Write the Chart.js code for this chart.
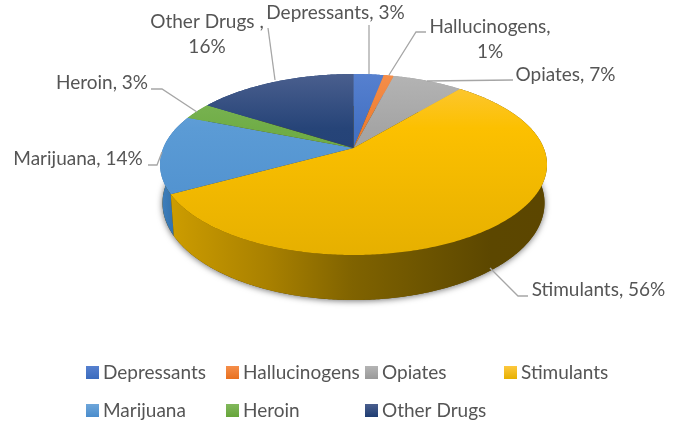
<!DOCTYPE html>
<html><head><meta charset="utf-8">
<style>html,body{margin:0;padding:0;background:#fff}canvas{display:block}</style>
<script src="https://cdn.jsdelivr.net/npm/chart.js@4"></script>
</head><body><canvas id="c" width="677" height="421"></canvas>
<script>
const categories = ["Depressants","Hallucinogens","Opiates","Stimulants","Marijuana","Heroin","Other Drugs"];
const percentages = [3,1,7,56,14,3,16];
const topColors = [
  ["#5680cf","#4472c4","#3b6bbd"],
  ["#f58e4a","#ed7d31","#e8701e"],
  ["#b4b4b4","#a5a5a5","#999999"],
  ["#fdc83e","#fcc000","#e6b000"],
  ["#6ea6da","#5b9bd5","#4a8ccc"],
  ["#82b85c","#70ad47","#66a53a"],
  ["#4a5f8e","#264478","#1e3c72"]
];
const wallColors = {
  3:[[0,"#cc9c00"],[0.26,"#a88000"],[0.48,"#806300"],[0.69,"#6b5300"],[0.85,"#5c4700"],[1,"#5c4600"]],
  4:[[0,"#3f80bd"],[1,"#2f6ca6"]]
};
const labelFont = '19px Lato';
const TOP = {cx:353.5, cy:164.5, rx:193.5, ry:90.5, off:-16.5};
const BOT = {cx:353.5, cy:203, ry:97, rx:191, off:-16.5};
const labelText = [
  {lines:["Depressants, 3%"], x:335.5, y:19},
  {lines:["Hallucinogens,","1%"], x:490, y:33},
  {lines:["Opiates, 7%"], x:565.5, y:81},
  {lines:["Stimulants, 56%"], x:598.5, y:296},
  {lines:["Marijuana, 14%"], x:78, y:165},
  {lines:["Heroin, 3%"], x:102, y:89},
  {lines:["Other Drugs ,","16%"], x:207, y:28}
];
const leaders = [
  [[369,25],[369,74]],
  [[426,32],[416,32],[389,75]],
  [[513,80],[427,81]],
  [[528,296],[518,296],[490,268]],
  [[148,165],[157,165],[162,152]],
  [[151,89],[162,89],[197,112]],
  [[268,28],[275,80]]
];
const legendCols = [86,226,365,504];
const legendRows = [366,404];

function project(a, g){
  const u = Math.cos(a), v = Math.sin(a);
  const k = g.off / g.ry;
  const A = g.rx * Math.sqrt(1 - k*k);
  const d = 1 + k*v;
  return [g.cx + A*u/d, g.cy + (g.ry*v + g.off)/d];
}
function rim(ctx, s, e, g, first){
  const n = Math.max(2, Math.ceil(Math.abs(e-s)/0.01));
  for(let i=0;i<=n;i++){
    const p = project(s+(e-s)*i/n, g);
    if(i===0 && first) ctx.moveTo(p[0],p[1]); else ctx.lineTo(p[0],p[1]);
  }
}
const pie3d = {
  id:'pie3d',
  beforeDatasetsDraw(chart){
    const ctx = chart.ctx, arcs = chart.getDatasetMeta(0).data;
    ctx.save();
    ctx.save();
    ctx.shadowColor='rgba(0,0,0,0.55)';ctx.shadowBlur=6;ctx.shadowOffsetY=1;
    ctx.fillStyle='#5c4600';
    ctx.beginPath();rim(ctx,0,Math.PI*2,BOT,true);ctx.closePath();ctx.fill();
    ctx.restore();
    const order = arcs.map((a,i)=>i).sort((i,j)=>
      Math.sin((arcs[i].startAngle+arcs[i].endAngle)/2)-Math.sin((arcs[j].startAngle+arcs[j].endAngle)/2));
    order.forEach(i=>{
      const a = arcs[i];
      const stops = wallColors[i] || [[0,topColors[i][2]],[1,topColors[i][2]]];
      const gr = ctx.createLinearGradient(i===3?172:TOP.cx-TOP.rx,0,i===3?TOP.cx+TOP.rx:180,0);
      stops.forEach(s=>gr.addColorStop(s[0],s[1]));
      ctx.fillStyle = gr;
      ctx.beginPath();
      rim(ctx,a.startAngle,a.endAngle,TOP,true);
      rim(ctx,a.endAngle,a.startAngle,BOT,false);
      ctx.closePath();ctx.fill();
    });
    arcs.forEach((a,i)=>{
      const gr = ctx.createLinearGradient(0,TOP.cy-TOP.ry,0,TOP.cy+TOP.ry);
      gr.addColorStop(0,topColors[i][0]);
      gr.addColorStop(0.3,topColors[i][1]);
      gr.addColorStop(1,topColors[i][2]);
      ctx.fillStyle = gr;
      ctx.beginPath();
      ctx.moveTo(TOP.cx,TOP.cy+TOP.off);
      rim(ctx,a.startAngle,a.endAngle,TOP,false);
      ctx.closePath();ctx.fill();
    });
    ctx.restore();
    return false;
  },
  afterDraw(chart){
    const ctx = chart.ctx;
    ctx.save();
    ctx.strokeStyle='#a6a6a6';ctx.lineWidth=1.3;
    leaders.forEach(l=>{
      ctx.beginPath();
      l.forEach((p,i)=>i?ctx.lineTo(p[0],p[1]):ctx.moveTo(p[0],p[1]));
      ctx.stroke();
    });
    ctx.fillStyle='#555555';ctx.font=labelFont;ctx.textAlign='center';ctx.textBaseline='alphabetic';
    labelText.forEach(t=>t.lines.forEach((s,i)=>ctx.fillText(s,t.x,t.y+i*25)));
    ctx.textAlign='left';
    chart.data.labels.forEach((name,i)=>{
      const x = legendCols[i%4], y = legendRows[Math.floor(i/4)];
      const gr = ctx.createLinearGradient(0,y,0,y+13);
      gr.addColorStop(0,topColors[i][0]);gr.addColorStop(1,topColors[i][2]);
      ctx.fillStyle=gr;ctx.fillRect(x,y,13,13);
      ctx.fillStyle='#555555';
      ctx.fillText(name,x+17,y+12.5);
    });
    ctx.restore();
  }
};
new Chart(document.getElementById('c'),{
  type:'pie',
  data:{labels:categories,datasets:[{data:percentages,backgroundColor:topColors.map(c=>c[1]),borderWidth:0}]},
  options:{responsive:false,animation:false,
    plugins:{legend:{display:false},tooltip:{enabled:false}}},
  plugins:[pie3d]
});
</script></body></html>
